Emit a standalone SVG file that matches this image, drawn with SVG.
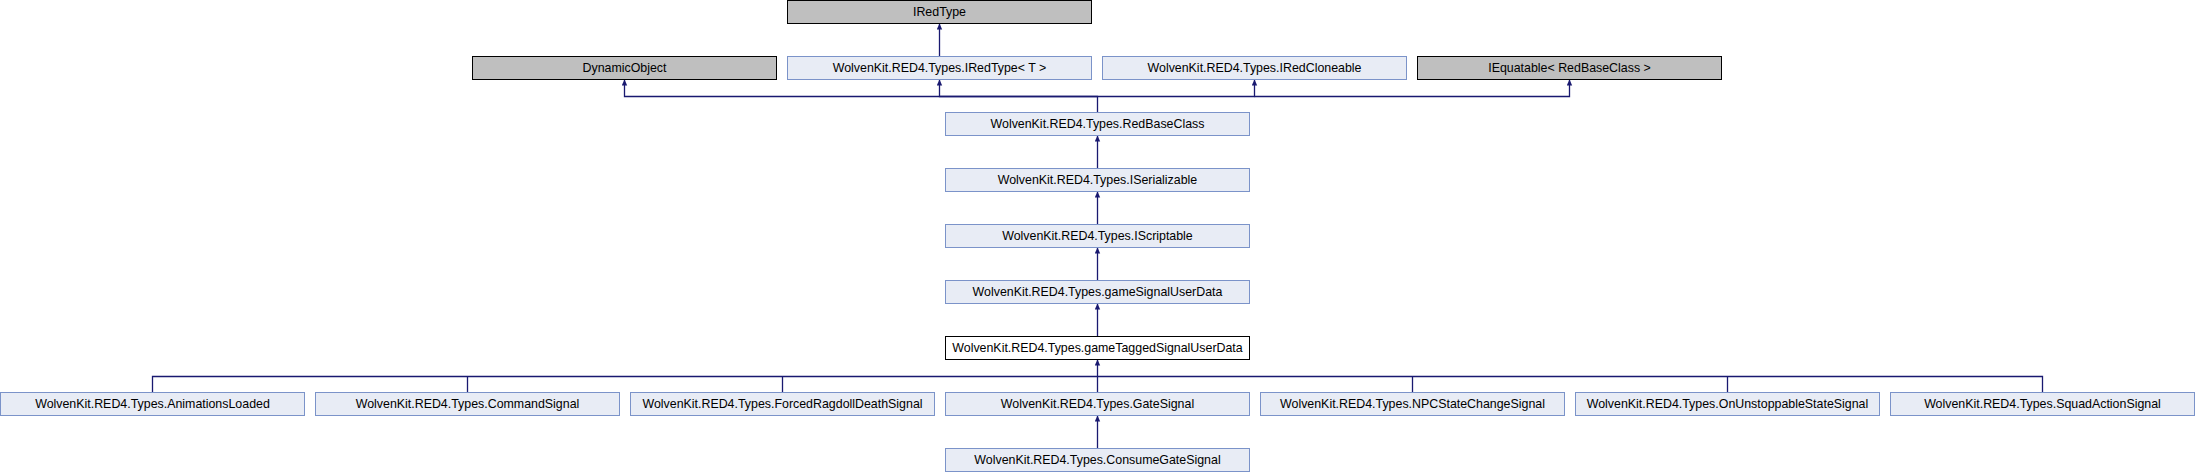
<svg xmlns="http://www.w3.org/2000/svg" width="2195" height="472" viewBox="0 0 2195 472">
<style>
rect{stroke-width:1}
.g rect{fill:#bfbfbf;stroke:#000000}
.b rect{fill:#e8ecf5;stroke:#7b93c9}
.w rect{fill:#ffffff;stroke:#000000}
text{font-family:"Liberation Sans",Arial,Helvetica,sans-serif;font-size:12.4px;fill:#000000;text-anchor:middle}
.e path{fill:none;stroke:#191970;stroke-width:1.3}
</style>
<defs>
<marker id="a" viewBox="0 0 6 6" refX="6" refY="3" markerWidth="6" markerHeight="6" markerUnits="userSpaceOnUse" orient="auto">
<path d="M0,0.3 L6,3 L0,5.7 Z" fill="#191970"/>
</marker>
</defs>
<rect width="2195" height="472" fill="#ffffff"/>
<g class="e">
<path d="M939.5,56.5 V23.5" marker-end="url(#a)"/>
<path d="M1097.5,112.5 V96.5 H624.5 V79.5" marker-end="url(#a)"/>
<path d="M1097.5,96.5 H939.5 V79.5" marker-end="url(#a)"/>
<path d="M1097.5,96.5 H1254.5 V79.5" marker-end="url(#a)"/>
<path d="M1254.5,96.5 H1569.5 V79.5" marker-end="url(#a)"/>
<path d="M1097.5,168.5 V135.5" marker-end="url(#a)"/>
<path d="M1097.5,224.5 V191.5" marker-end="url(#a)"/>
<path d="M1097.5,280.5 V247.5" marker-end="url(#a)"/>
<path d="M1097.5,336.5 V303.5" marker-end="url(#a)"/>
<path d="M1097.5,392.5 V359.5" marker-end="url(#a)"/>
<path d="M152.5,392.5 V376.5 H2042.5 V392.5"/>
<path d="M467.5,376.5 V392.5"/>
<path d="M782.5,376.5 V392.5"/>
<path d="M1412.5,376.5 V392.5"/>
<path d="M1727.5,376.5 V392.5"/>
<path d="M1097.5,448.5 V415.5" marker-end="url(#a)"/>
</g>
<g id="n_IRedType" class="g"><rect x="787.5" y="0.5" width="304" height="23"/><text x="939.5" y="16.3">IRedType</text></g>
<g id="n_DynamicObject" class="g"><rect x="472.5" y="56.5" width="304" height="23"/><text x="624.5" y="72.3">DynamicObject</text></g>
<g id="n_IRedTypeT" class="b"><rect x="787.5" y="56.5" width="304" height="23"/><text x="939.5" y="72.3">WolvenKit.RED4.Types.IRedType&lt; T &gt;</text></g>
<g id="n_IRedCloneable" class="b"><rect x="1102.5" y="56.5" width="304" height="23"/><text x="1254.5" y="72.3">WolvenKit.RED4.Types.IRedCloneable</text></g>
<g id="n_IEquatable" class="g"><rect x="1417.5" y="56.5" width="304" height="23"/><text x="1569.5" y="72.3">IEquatable&lt; RedBaseClass &gt;</text></g>
<g id="n_RedBaseClass" class="b"><rect x="945.5" y="112.5" width="304" height="23"/><text x="1097.5" y="128.3">WolvenKit.RED4.Types.RedBaseClass</text></g>
<g id="n_ISerializable" class="b"><rect x="945.5" y="168.5" width="304" height="23"/><text x="1097.5" y="184.3">WolvenKit.RED4.Types.ISerializable</text></g>
<g id="n_IScriptable" class="b"><rect x="945.5" y="224.5" width="304" height="23"/><text x="1097.5" y="240.3">WolvenKit.RED4.Types.IScriptable</text></g>
<g id="n_gameSignalUserData" class="b"><rect x="945.5" y="280.5" width="304" height="23"/><text x="1097.5" y="296.3">WolvenKit.RED4.Types.gameSignalUserData</text></g>
<g id="n_gameTaggedSignalUserData" class="w"><rect x="945.5" y="336.5" width="304" height="23"/><text x="1097.5" y="352.3">WolvenKit.RED4.Types.gameTaggedSignalUserData</text></g>
<g id="n_AnimationsLoaded" class="b"><rect x="0.5" y="392.5" width="304" height="23"/><text x="152.5" y="408.3">WolvenKit.RED4.Types.AnimationsLoaded</text></g>
<g id="n_CommandSignal" class="b"><rect x="315.5" y="392.5" width="304" height="23"/><text x="467.5" y="408.3">WolvenKit.RED4.Types.CommandSignal</text></g>
<g id="n_ForcedRagdollDeathSignal" class="b"><rect x="630.5" y="392.5" width="304" height="23"/><text x="782.5" y="408.3">WolvenKit.RED4.Types.ForcedRagdollDeathSignal</text></g>
<g id="n_GateSignal" class="b"><rect x="945.5" y="392.5" width="304" height="23"/><text x="1097.5" y="408.3">WolvenKit.RED4.Types.GateSignal</text></g>
<g id="n_NPCStateChangeSignal" class="b"><rect x="1260.5" y="392.5" width="304" height="23"/><text x="1412.5" y="408.3">WolvenKit.RED4.Types.NPCStateChangeSignal</text></g>
<g id="n_OnUnstoppableStateSignal" class="b"><rect x="1575.5" y="392.5" width="304" height="23"/><text x="1727.5" y="408.3">WolvenKit.RED4.Types.OnUnstoppableStateSignal</text></g>
<g id="n_SquadActionSignal" class="b"><rect x="1890.5" y="392.5" width="304" height="23"/><text x="2042.5" y="408.3">WolvenKit.RED4.Types.SquadActionSignal</text></g>
<g id="n_ConsumeGateSignal" class="b"><rect x="945.5" y="448.5" width="304" height="23"/><text x="1097.5" y="464.3">WolvenKit.RED4.Types.ConsumeGateSignal</text></g>
</svg>
